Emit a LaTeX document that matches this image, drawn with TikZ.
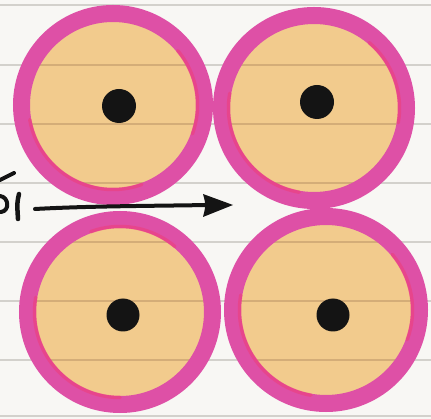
\documentclass[tikz,border=0pt]{standalone}
\usetikzlibrary{calc}
\definecolor{bgc}{HTML}{F8F7F4}
\definecolor{paperline}{HTML}{D3D1CC}
\definecolor{ringpink}{HTML}{DE50A6}
\definecolor{ringred}{HTML}{F03C78}
\definecolor{tanfill}{HTML}{F2CB8D}
\definecolor{tanline}{HTML}{D4AD78}
\definecolor{inkc}{HTML}{141414}
\tikzset{
  paper/.style={draw=paperline, line width=1.6pt},
  ringstyle/.style={draw=ringpink, line width=17pt},
  inneredge/.style={draw=ringred, line width=3.5pt, opacity=0.55, line cap=round},
  ink/.style={draw=inkc, line width=4pt, line cap=round, line join=round},
}
\begin{document}
\begin{tikzpicture}[x=1pt,y=-1pt]
\fill[bgc] (0,0) rectangle (431,419);
\useasboundingbox (0,0) rectangle (431,419);
% paper lines
\foreach \y in {5,65,124,183,242,301,360,416} {
  \draw[paper] (0,\y) -- (431,\y);
}
% centres
\coordinate (c1) at (113,105);
\coordinate (c2) at (314,108);
\coordinate (c3) at (120,312);
\coordinate (c4) at (326,310);
% tan disks with lines
\foreach \c in {c1,c2,c3,c4} {
  \fill[tanfill] (\c) circle (88);
  \begin{scope}
    \clip (\c) circle (88);
    \foreach \y in {5,65,124,183,242,301,360,416} {
      \draw[draw=tanline, line width=1.6pt] (0,\y) -- (431,\y);
    }
  \end{scope}
}
% rings
\draw[ringstyle] (c1) circle (91.5);
\draw[ringstyle] (c2) circle (92.5);
\draw[ringstyle] (c3) circle (92.5);
\draw[ringstyle] (c4) circle (93.5);
% reddish inner edges (y axis flipped: angles measured clockwise)
\draw[inneredge] ($(c1)+(170:84.5)$) arc (170:70:84.5);
\draw[inneredge] ($(c1)+(20:84.5)$) arc (20:-40:84.5);
\draw[inneredge] ($(c2)+(190:85.5)$) arc (190:100:85.5);
\draw[inneredge] ($(c2)+(10:85.5)$) arc (10:-50:85.5);
\draw[inneredge] ($(c3)+(190:85.5)$) arc (190:90:85.5);
\draw[inneredge] ($(c3)+(-50:85.5)$) arc (-50:-110:85.5);
\draw[inneredge] ($(c4)+(190:86.5)$) arc (190:100:86.5);
\draw[inneredge] ($(c4)+(20:86.5)$) arc (20:-40:86.5);
% dots
\fill[inkc] (119,106) circle (17);
\fill[inkc] (317,102) circle (17);
\fill[inkc] (123,315) circle (16.5);
\fill[inkc] (333,315) circle (16.5);
% arrow
\coordinate (atail) at (35,209);
\coordinate (ahead) at (208,205);
\draw[ink] (atail) .. controls (90,206) and (150,206) .. (ahead);
\fill[inkc] (233,205) -- (203,194) .. controls (206,205) .. (203,217) -- cycle;
% partial handwritten marks at left edge
\draw[ink] (0,180) -- (14,173);
\draw[ink] (0,196) .. controls (9,197) and (10,211) .. (1,212);
\draw[ink, line width=4.5pt] (19,194) .. controls (17,203) .. (18,219);
\end{tikzpicture}
\end{document}
